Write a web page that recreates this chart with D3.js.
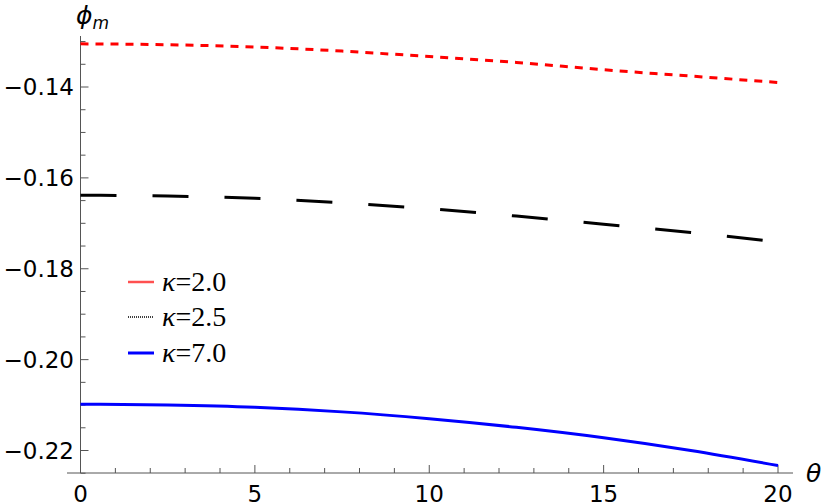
<!DOCTYPE html>
<html><head><meta charset="utf-8">
<script src="https://cdn.jsdelivr.net/npm/d3@7"></script>
<style>body{margin:0;background:#fff}</style></head>
<body><svg id="c" width="830" height="504"></svg>
<script>
const thetas=[0,2.5,5,7.5,10,12.5,15,17.5,20];
const red=[-0.1305,-0.1307,-0.1312,-0.1321,-0.1333,-0.1346,-0.1362,-0.1376,-0.1390];
const black=[-0.1638,-0.1640,-0.1645,-0.1655,-0.1668,-0.1684,-0.1702,-0.1720,-0.1741];
const blue=[-0.2098,-0.2100,-0.2105,-0.2115,-0.2130,-0.2149,-0.2172,-0.2200,-0.2233];
const xTicks=[0,5,10,15,20];
const yTicks=[-0.22,-0.20,-0.18,-0.16,-0.14];
const legendLabels=["κ=2.0","κ=2.5","κ=7.0"];
const svg=d3.select("#c");
const x=d3.scaleLinear().domain([0,20]).range([80.5,778]);
const y=d3.scaleLinear().domain([-0.14,-0.22]).range([87,450.5]);
const ax="#555";
svg.append("line").attr("x1",67).attr("x2",793).attr("y1",473).attr("y2",473).attr("stroke",ax);
svg.append("line").attr("x1",80.5).attr("x2",80.5).attr("y1",36).attr("y2",473).attr("stroke",ax);
d3.range(0,21,1).forEach(v=>{const maj=v%5===0;svg.append("line").attr("x1",x(v)).attr("x2",x(v)).attr("y1",473).attr("y2",473-(maj?8:5)).attr("stroke",ax);});
xTicks.forEach(v=>svg.append("text").attr("x",x(v)).attr("y",502).attr("text-anchor","middle").attr("font-family","DejaVu Sans").attr("font-size",23).text(v));
d3.range(-0.225,-0.1285,0.005).forEach(v=>{const maj=Math.abs(Math.round(v*1000)%20)===0;svg.append("line").attr("x1",80.5).attr("x2",80.5+(maj?8:5)).attr("y1",y(v)).attr("y2",y(v)).attr("stroke",ax);});
yTicks.forEach(v=>svg.append("text").attr("x",74).attr("y",y(v)+8).attr("text-anchor","end").attr("font-family","DejaVu Sans").attr("font-size",23).text("\u2212"+Math.abs(v).toFixed(2)));
svg.append("text").attr("x",76).attr("y",24).attr("font-family","DejaVu Sans").attr("font-style","italic").attr("font-size",25).html('ϕ<tspan font-size="17" dy="5">m</tspan>');
svg.append("text").attr("x",806).attr("y",482).attr("font-family","DejaVu Sans").attr("font-style","italic").attr("font-size",25).text("θ");
const line=d3.line().x((d,i)=>x(thetas[i])).y(d=>y(d)).curve(d3.curveMonotoneX);
svg.append("path").datum(red).attr("d",line).attr("fill","none").attr("stroke","#ff0000").attr("stroke-width",3).attr("stroke-dasharray","8,7");
svg.append("path").datum(black).attr("d",line).attr("fill","none").attr("stroke","#000").attr("stroke-width",3).attr("stroke-dasharray","36,36");
svg.append("path").datum(blue).attr("d",line).attr("fill","none").attr("stroke","#0000ff").attr("stroke-width",3);
const ly=[282,317,353];
const ls=[{c:"#ff5050",w:2.5,d:null},{c:"#000",w:1.5,d:"1,1"},{c:"#0000ff",w:3,d:null}];
ly.forEach((yy,i)=>{svg.append("line").attr("x1",128).attr("x2",154).attr("y1",yy).attr("y2",yy).attr("stroke",ls[i].c).attr("stroke-width",ls[i].w).attr("stroke-dasharray",ls[i].d);
svg.append("text").attr("x",162).attr("y",yy+9).attr("font-family","Liberation Serif").attr("font-size",28).html('<tspan font-style="italic">κ</tspan>'+legendLabels[i].slice(1));});
</script></body></html>
